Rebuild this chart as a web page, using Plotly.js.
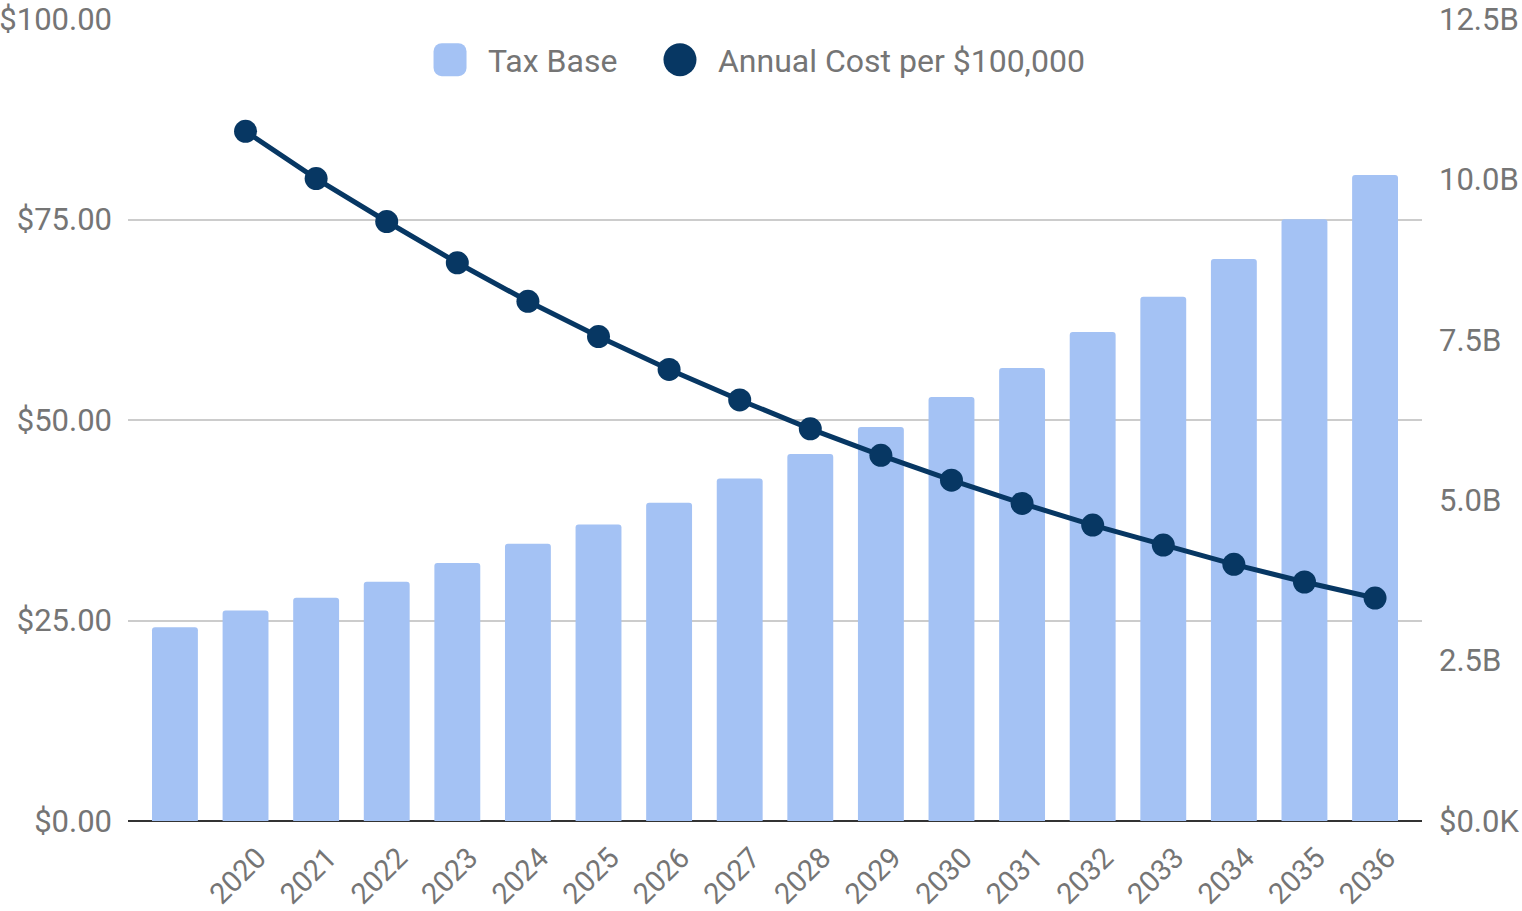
<!DOCTYPE html>
<html>
<head>
<meta charset="utf-8">
<script src="https://cdn.plot.ly/plotly-3.0.1.min.js"></script>
<style>
  html, body { margin: 0; padding: 0; background: #ffffff; }
  #chart { width: 1522px; height: 911px; }
</style>
</head>
<body>
<div id="chart"></div>
<script>
// ---- data ----
const categories = ['', '2020', '2021', '2022', '2023', '2024', '2025', '2026', '2027',
                    '2028', '2029', '2030', '2031', '2032', '2033', '2034', '2035', '2036'];
// Tax Base, in billions of dollars (right axis)
const taxBaseBillions = [3.02, 3.28, 3.48, 3.73, 4.02, 4.32, 4.62, 4.96, 5.34,
                         5.72, 6.14, 6.61, 7.06, 7.62, 8.17, 8.76, 9.38, 10.07];
// Annual Cost per $100,000 (left axis, dollars); no value for the first category
const annualCost = [null, 86.0, 80.1, 74.75, 69.6, 64.8, 60.4, 56.3, 52.5,
                    48.9, 45.6, 42.5, 39.6, 36.9, 34.4, 32.0, 29.8, 27.8];
// right axis tick labels
const rightTickValues = [0, 2.5, 5, 7.5, 10, 12.5];
const rightTickLabels = ['$0.0K', '2.5B', '5.0B', '7.5B', '10.0B', '12.5B'];
const seriesNames = ['Tax Base', 'Annual Cost per $100,000'];

// ---- chart ----
const xPos = categories.map((c, i) => i);
const gray = '#757575';
const font = 'Roboto, "Noto Sans", sans-serif';

const traces = [
  {
    type: 'bar',
    name: seriesNames[0],
    x: xPos,
    y: taxBaseBillions,
    yaxis: 'y',
    legend: 'legend',
    width: 0.65,
    marker: { color: '#a4c2f4', cornerradius: 3, line: { width: 0 } },
    hoverinfo: 'skip'
  },
  {
    type: 'scatter',
    mode: 'lines+markers',
    name: seriesNames[1],
    x: xPos,
    y: annualCost,
    yaxis: 'y2',
    legend: 'legend2',
    line: { color: '#073763', width: 5 },
    marker: { color: '#073763', size: 23 },
    connectgaps: false,
    hoverinfo: 'skip'
  }
];

const legendStyle = {
  orientation: 'h',
  xanchor: 'left',
  y: 0.949, yanchor: 'middle',
  font: { family: font, size: 32, color: gray },
  itemsizing: 'constant',
  itemwidth: 66,
  bgcolor: 'rgba(0,0,0,0)'
};

const layout = {
  width: 1522,
  height: 911,
  margin: { l: 128, r: 100, t: 19, b: 90 },
  paper_bgcolor: '#ffffff',
  plot_bgcolor: '#ffffff',
  font: { family: font, color: gray, size: 31 },
  showlegend: true,
  legend: Object.assign({}, legendStyle, { x: 0.2195 }),
  legend2: Object.assign({}, legendStyle, { x: 0.3972 }),
  xaxis: {
    type: 'linear',
    range: [-0.665, 17.665],
    tickmode: 'array',
    tickvals: xPos,
    ticktext: categories,
    tickangle: -45,
    ticks: '',
    ticklabelstandoff: 13,
    ticklabelshift: 12,
    showgrid: false,
    zeroline: false,
    showline: false,
    tickfont: { family: font, size: 29, color: gray },
    fixedrange: true
  },
  // primary axis: Tax Base (right side)
  yaxis: {
    side: 'right',
    range: [0, 12.5],
    tickmode: 'array',
    tickvals: rightTickValues,
    ticktext: rightTickLabels,
    ticks: '',
    ticklabelstandoff: 16,
    showgrid: false,
    zeroline: false,
    showline: false,
    tickfont: { family: font, size: 31, color: gray },
    fixedrange: true
  },
  // overlaying axis: Annual Cost (left side) with the grid
  yaxis2: {
    overlaying: 'y',
    side: 'left',
    range: [0, 100],
    tickmode: 'linear',
    tick0: 0,
    dtick: 25,
    tickformat: '$.2f',
    ticks: '',
    ticklabelstandoff: 15,
    showgrid: true,
    gridcolor: '#cccccc',
    gridwidth: 2,
    zeroline: true,
    zerolinecolor: '#333333',
    zerolinewidth: 2,
    showline: false,
    tickfont: { family: font, size: 31, color: gray },
    fixedrange: true
  }
};

Plotly.newPlot('chart', traces, layout, { staticPlot: true, displayModeBar: false }).then(function (gd) {
  // enlarge legend symbols and hide the legend line segment, like the reference legend
  gd.querySelectorAll('.legendlines path').forEach(function (p) {
    p.style.display = 'none';
  });
  gd.querySelectorAll('.legendpoints path').forEach(function (p) {
    const t = p.getAttribute('transform') || '';
    p.setAttribute('transform', t + ' scale(2.75)');
  });
});
</script>
</body>
</html>
